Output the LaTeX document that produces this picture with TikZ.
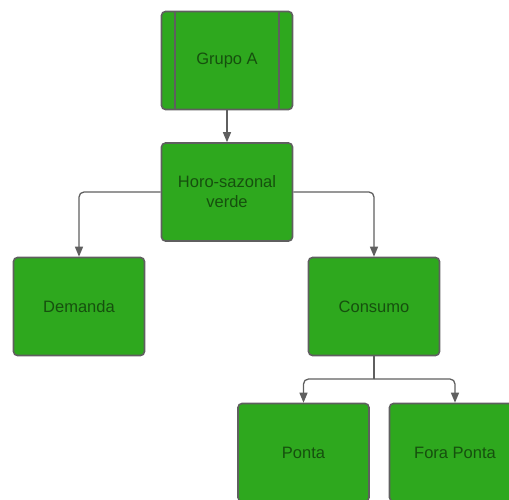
\documentclass[tikz,border=0pt]{standalone}
\usepackage{fontspec}
\setmainfont{Liberation Sans}
\usetikzlibrary{arrows.meta}
\definecolor{boxgreen}{RGB}{46,168,30}
\definecolor{edgegray}{RGB}{95,95,95}
\definecolor{txtgreen}{RGB}{22,80,14}
\begin{document}
\begin{tikzpicture}[x=1pt,y=-1pt,
  box/.style={draw=edgegray,line width=1.6pt,fill=boxgreen,rounded corners=4pt,
    minimum width=131pt,minimum height=98pt,inner sep=0pt,align=center,
    text=txtgreen,font=\fontsize{16.5}{20}\selectfont},
  conn/.style={draw=edgegray,line width=1.3pt,rounded corners=5pt,
    -{Triangle[length=10pt,width=8pt]}}]
\useasboundingbox (0,0) rectangle (509,499);
\node[box] (g) at (227,60.5) {Grupo A};
\draw[edgegray,line width=1.3pt] (175,12) -- (175,109) (279,12) -- (279,109);
\node[box] (h) at (227,192) {Horo-sazonal\\verde};
\node[box] (d) at (79,306.5) {Demanda};
\node[box] (c) at (374,306.5) {Consumo};
\node[box] (p) at (303.5,452.5) {Ponta};
\node[box] (f) at (455,452.5) {Fora Ponta};
\coordinate (j) at (374,379);
\draw[conn] (g.south) -- (h.north);
\draw[conn] (h.west) -| (d.north);
\draw[conn] (h.east) -| (c.north);
\draw[edgegray,line width=1.3pt] (c.south) -- (j);
\draw[conn] (j) -| (p.north);
\draw[conn] (j) -| (f.north);
\end{tikzpicture}
\end{document}
